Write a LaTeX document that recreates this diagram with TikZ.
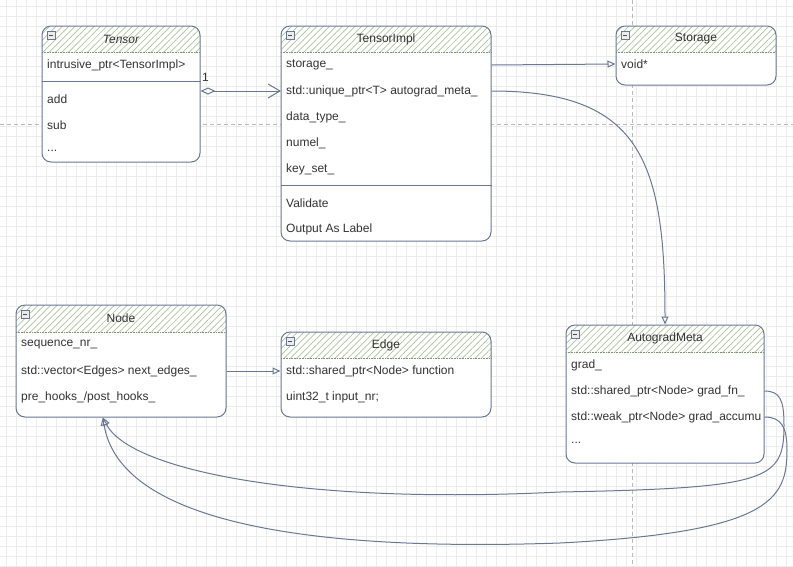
\documentclass[tikz,border=0pt]{standalone}
\usepackage{fontspec}
\setmainfont{Liberation Sans}
\usetikzlibrary{arrows.meta,patterns.meta,fit,calc}
\definecolor{lc}{RGB}{105,119,148}
\definecolor{tc}{RGB}{51,51,51}
\definecolor{hatchc}{RGB}{172,196,155}
\definecolor{gridc}{RGB}{236,236,236}
\definecolor{pagec}{RGB}{185,185,185}
\tikzset{
  boxline/.style={draw=lc, line width=1pt, rounded corners=9pt},
  hdr/.style={pattern={Lines[angle=45,distance=4.5pt,line width=0.7pt]}, pattern color=hatchc},
  row/.style={anchor=west, inner xsep=5pt, inner ysep=2pt, text=tc, font=\fontsize{12}{14}\selectfont},
  titletext/.style={text=tc, font=\fontsize{12}{14}\selectfont, inner sep=1pt},
  conn/.style={draw=lc, line width=1pt},
  opentri/.style={-{Triangle[open,length=8pt,width=7pt]}},
  sepline/.style={draw=lc, line width=1pt}
}
\newcommand{\umlbox}[6]{%
  \begin{scope}
    \clip[rounded corners=9pt] (#2,#3) rectangle (#4,#5);
    \fill[white] (#2,#3) rectangle (#4,#5);
    \path[hdr] (#2,#3) rectangle (#4,#6);
  \end{scope}
  \draw[hatchc!75!black, line width=0.6pt, densely dotted] (#2,#6) -- (#4,#6);
  \node[boxline, inner sep=0pt, fit={(#2,#3)(#4,#5)}] (#1) {};
  \draw[lc, fill=gray!15, line width=0.6pt] ({#2+5},{#3+5}) rectangle ({#2+13},{#3+13});
  \draw[black!70, line width=0.8pt] ({#2+7},{#3+9}) -- ({#2+11},{#3+9});
}
\begin{document}
\begin{tikzpicture}[x=1pt,y=-1pt]
\useasboundingbox (0,0) rectangle (793,566);
% grid
\foreach \i in {6,16,...,786} \draw[gridc, line width=0.5pt] (\i,0) -- (\i,566);
\foreach \j in {6,16,...,566} \draw[gridc, line width=0.5pt] (0,\j) -- (793,\j);
\draw[pagec, line width=0.6pt, dash pattern=on 4pt off 3pt] (0,124) -- (793,124);
\draw[pagec, line width=0.6pt, dash pattern=on 4pt off 3pt] (632,0) -- (632,566);

% Tensor
\umlbox{tensor}{42}{26}{200}{162}{52}
\node[titletext, font=\fontsize{12}{14}\selectfont\itshape] (tensor-t) at (121,39) {Tensor};
\node[row] (tensor-ptr) at (42,65) {intrusive\_ptr<TensorImpl>};
\draw[sepline] (tensor.west |- 0,81) -- (tensor.east |- 0,81);
\node[row] (tensor-add) at (42,99) {add};
\node[row] (tensor-sub) at (42,125) {sub};
\node[row] (tensor-etc) at (42,151) {...};

% TensorImpl
\umlbox{ti}{281}{26}{491}{241}{52}
\node[titletext] (ti-t) at (386,39) {TensorImpl};
\node[row] (ti-storage) at (281,65) {storage\_};
\node[row] (ti-meta) at (281,91) {std::unique\_ptr<T> autograd\_meta\_};
\node[row] (ti-dtype) at (281,117) {data\_type\_};
\node[row] (ti-numel) at (281,143) {numel\_};
\node[row] (ti-key) at (281,169) {key\_set\_};
\draw[sepline] (ti.west |- 0,185) -- (ti.east |- 0,185);
\node[row] (ti-val) at (281,203) {Validate};
\node[row] (ti-out) at (281,229) {Output As Label};

% Storage
\umlbox{st}{616}{26}{776}{85}{52}
\node[titletext] (st-t) at (696,39) {Storage};
\node[row] (st-void) at (616,64) {void*};

% Node
\umlbox{node}{16}{305}{226}{417}{332}
\node[titletext] (node-t) at (121,318) {Node};
\node[row] (node-seq) at (16,345) {sequence\_nr\_};
\node[row] (node-edges) at (16,371) {std::vector<Edges> next\_edges\_};
\node[row] (node-hooks) at (16,397) {pre\_hooks\_/post\_hooks\_};

% Edge
\umlbox{edge}{281}{332}{491}{417}{358}
\node[titletext] (edge-t) at (386,345) {Edge};
\node[row] (edge-fn) at (281,371) {std::shared\_ptr<Node> function};
\node[row] (edge-nr) at (281,397) {uint32\_t input\_nr;};

% AutogradMeta
\umlbox{am}{566}{325}{764}{463}{352}
\node[titletext] (am-t) at (665,338) {AutogradMeta};
\node[row] (am-grad) at (566,365) {grad\_};
\node[row] (am-fn) at (566,391) {std::shared\_ptr<Node> grad\_fn\_};
\node[row] (am-acc) at (566,417) {std::weak\_ptr<Node> grad\_accumu};
\node[row] (am-etc) at (566,443) {...};

% connectors
\draw[conn, {Diamond[open,length=15pt,width=7pt]}-{Straight Barb[length=12pt,width=14pt]}]
  (tensor.east |- ti-meta.west) -- (ti-meta.west);
\node[titletext, anchor=base west, inner sep=0pt] (lbl1) at (202,81) {1};

\draw[conn, opentri] (ti.east |- ti-storage.west) -- (st.west |- st-void.west);
\draw[conn, opentri] (ti.east |- ti-meta.west) .. controls (640,91) and (665,160) .. (am.north);
\draw[conn, opentri] (node.east |- node-edges.west) -- (edge.west |- edge-fn.west);

\coordinate (node-in) at ($(node.south west)!0.414!(node.south east)$);
\draw[conn, opentri] (am.east |- am-fn.west) .. controls (780,391) and (784,400) .. (784,425)
  .. controls (784,480) and (770,488) .. (560,492)
  .. controls (300,505) and (130,470) .. (node-in);
\draw[conn, opentri] (am.east |- am-acc.west) .. controls (782,417) and (787,428) .. (787,450)
  .. controls (787,500) and (770,532) .. (560,543)
  .. controls (300,552) and (120,520) .. (node-in);
\end{tikzpicture}
\end{document}
